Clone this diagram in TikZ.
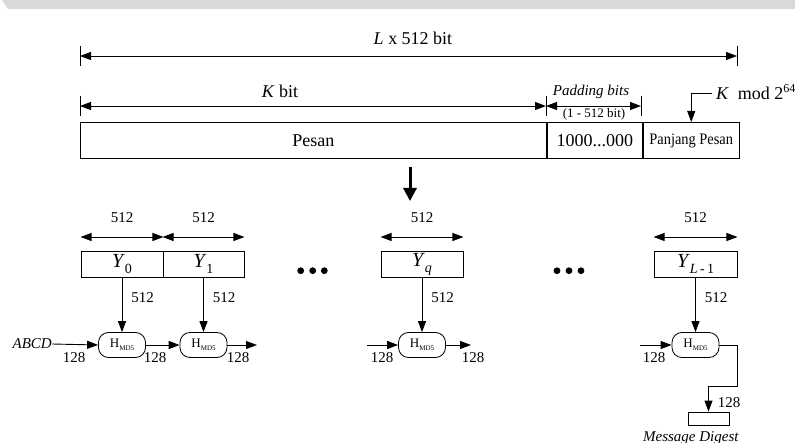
\documentclass[tikz,border=0pt]{standalone}
\usepackage{fontspec}
\setmainfont{Liberation Serif}
\usetikzlibrary{arrows.meta}
\newcommand\fs[1]{\fontsize{#1}{#1}\selectfont}
\begin{document}
\begin{tikzpicture}[x=1pt,y=-1pt,
  ln/.style={line width=0.9pt},
  tip/.style={ln,-{Triangle[length=11pt,width=8pt]}},
  dbl/.style={ln,{Triangle[length=11pt,width=8pt]}-{Triangle[length=11pt,width=8pt]}},
  cell/.style={draw, line width=0.9pt, minimum height=36pt, inner sep=0pt, anchor=north west},
  ybox/.style={draw, line width=0.9pt, minimum height=26pt, minimum width=82pt, inner sep=0pt},
  hnode/.style={draw, line width=0.8pt, rounded corners=10pt, minimum width=47pt, minimum height=25pt, inner sep=0pt},
  lbl/.style={inner sep=0pt, font=\fs{15}},
  dot/.style={fill=black}
]
\useasboundingbox (0,0) rectangle (795,443);
\fill[black!15] (2,0) -- (795,0) -- (795,9) -- (8,9) -- cycle;

% top dimension arrows
\coordinate (Lw) at (80,56); \coordinate (Le) at (737,56);
\draw[dbl] (Lw) -- (Le);
\draw[ln] (Lw) ++(0,-10) -- ++(0,20);
\draw[ln] (Le) ++(0,-10) -- ++(0,20);
\node[lbl,font=\fs{18}] (Ltxt) at (413,38) {\textit{L} x 512 bit};

\coordinate (Kw) at (80,106); \coordinate (Ke) at (546,106); \coordinate (Pe) at (641,106);
\draw[dbl] (Kw) -- (Ke);
\draw[dbl] (Ke) -- (Pe);
\draw[ln] (Kw) ++(0,-10) -- ++(0,20);
\draw[ln] (Ke) ++(0,-10) -- ++(0,20);
\draw[ln] (Pe) ++(0,-10) -- ++(0,20);
\node[lbl,font=\fs{18}] (Ktxt) at (280,91) {\textit{K} bit};
\node[lbl,font=\fs{15}] (padtxt) at (591,92) {\textit{Padding bits}};
\node[lbl,font=\fs{13}] (rngtxt) at (594,114) {(1 - 512 bit)};

% message cells
\node[cell, minimum width=466pt] (pesan) at (80,122) {\fs{18}Pesan};
\node[cell, minimum width=95pt] (pad) at (pesan.north east) {\fs{18}1000...000};
\node[cell, minimum width=96pt] (pjg) at (pad.north east) {\fs{16}\scalebox{0.9}[1]{Panjang Pesan}};

\coordinate (km) at (712,93);
\draw[tip] (km) -- (pjg.north |- km) -- (pjg.north);
\node[lbl,font=\fs{18},anchor=west] (kmod) at (716,92) {\textit{K}~~mod 2\raisebox{7pt}{\fs{12}64}};

% big arrow
\coordinate (bs) at (410,167); \coordinate (be) at (410,201);
\draw[line width=3pt, -{Triangle[length=13pt,width=13pt]}] (bs) -- (be);

% blocks
\node[ybox] (y0) at (122,264) {\fs{20}\textit{Y}\raisebox{-6pt}{\fs{14}0}};
\node[ybox, minimum width=81pt] (y1) at (203.5,264) {\fs{20}\textit{Y}\raisebox{-6pt}{\fs{14}1}};
\node[ybox] (yq) at (422,264) {\fs{20}\textit{Y}\raisebox{-6pt}{\fs{14}\textit{q}}};
\node[ybox, minimum width=83pt] (yl) at (695.5,264) {\fs{20}\textit{Y}\raisebox{-6pt}{\fs{14}\textit{L}\,-\,1}};

\foreach \b in {y0,y1,yq,yl}{
  \draw[dbl] (\b.west |- 0,237) -- (\b.east |- 0,237);
  \node[lbl] at (\b.north |- 0,218) {512};
}

\foreach \x in {300.7,312.7,324.3,557,569,581}{
  \fill[dot] (\x,270.7) circle[radius=3.4pt];
}

% H nodes
\node[hnode] (h0) at (122,345) {\fs{13}H\raisebox{-2.5pt}{\fs{7}MD5}};
\node[hnode] (h1) at (203.5,345) {\fs{13}H\raisebox{-2.5pt}{\fs{7}MD5}};
\node[hnode] (hq) at (422,345) {\fs{13}H\raisebox{-2.5pt}{\fs{7}MD5}};
\node[hnode] (hl) at (695.5,345) {\fs{13}H\raisebox{-2.5pt}{\fs{7}MD5}};

\foreach \a/\b in {y0/h0,y1/h1,yq/hq,yl/hl}{
  \draw[tip] (\a.south) -- (\b.north) node[pos=0.36, right=9pt, lbl] {512};
}

\node[lbl,font=\fs{15},anchor=east] (abcd) at (52,344) {\textit{ABCD}};
\draw[tip] (abcd.east) -- (h0.west);
\draw[tip] (h0.east) -- (h1.west);
\coordinate (h1o) at (257,345);
\draw[tip] (h1.east) -- (h1o);
\coordinate (hqi) at (367,345); \coordinate (hqo) at (471,345);
\draw[tip] (hqi) -- (hq.west);
\draw[tip] (hq.east) -- (hqo);
\coordinate (hli) at (640,345);
\draw[tip] (hli) -- (hl.west);

\node[lbl] at (74,358) {128};
\node[lbl] at (155,358) {128};
\node[lbl] at (238,358) {128};
\node[lbl] at (382,358) {128};
\node[lbl] at (473,358) {128};
\node[lbl] at (654,358) {128};

% message digest
\node[draw, line width=0.9pt, minimum width=41pt, minimum height=13pt, inner sep=0pt] (md) at (708.5,418.5) {};
\draw[tip] (hl.east) -- (737,345) -- (737,386) -- (md.north |- 0,386) -- (md.north);
\node[lbl] at (729,403) {128};
\node[lbl,font=\fs{15},anchor=base] (mdtxt) at (691,441) {\textit{Message Digest}};
\end{tikzpicture}
\end{document}
